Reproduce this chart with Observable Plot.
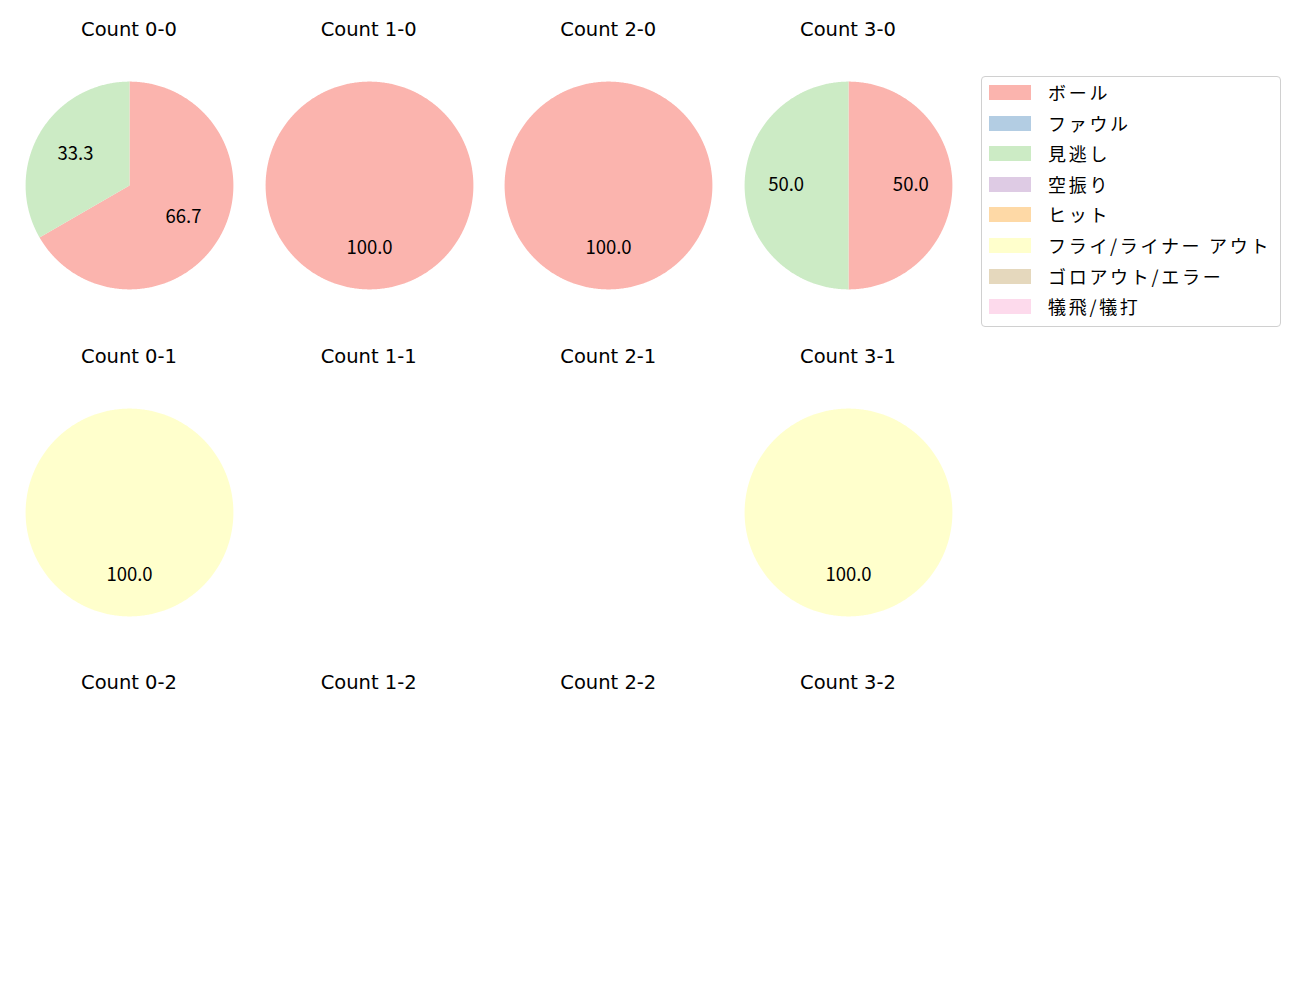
<!DOCTYPE html>
<html>
<head>
<meta charset="utf-8">
<script src="https://cdn.jsdelivr.net/npm/d3@7"></script>
<script src="https://cdn.jsdelivr.net/npm/@observablehq/plot@0.6"></script>
<style>
  html, body { margin: 0; padding: 0; background: #fff; }
  body { font-family: "Noto Sans CJK JP", "Noto Sans", sans-serif; }
  #fig { position: relative; width: 1300px; height: 1000px; overflow: hidden; }
  .ttl { position: absolute; width: 240px; text-align: center; font-family: "DejaVu Sans", sans-serif; font-size: 19.5px; color: #000; line-height: 24px; }
  .pie { position: absolute; }
  #legend { position: absolute; left: 981px; top: 76px; width: 298px; height: 249px; border: 1px solid #d0d0d0; border-radius: 4px; background: #fff; }
  .lg-row { position: absolute; left: 0; height: 20px; }
  .lg-sw { position: absolute; left: 7px; top: 2px; width: 42px; height: 15px; }
  .lg-tx { position: absolute; left: 66px; top: -3px; font-size: 18px; letter-spacing: 2.7px; white-space: nowrap; color: #000; line-height: 24px; }
</style>
</head>
<body>
<div id="fig"></div>
<script>
// ---- data ----
const categories = ["ボール", "ファウル", "見逃し", "空振り", "ヒット", "フライ/ライナー アウト", "ゴロアウト/エラー", "犠飛/犠打"];
const colors = ["#fbb4ae", "#b3cde3", "#ccebc5", "#decbe4", "#fed9a6", "#ffffcc", "#e5d8bd", "#fddaec"];
const balls = [0, 1, 2, 3];
const strikes = [0, 1, 2];
// counts per category for each ball-strike count (order follows categories)
const count_0_0 = [2, 0, 1, 0, 0, 0, 0, 0];
const count_1_0 = [1, 0, 0, 0, 0, 0, 0, 0];
const count_2_0 = [1, 0, 0, 0, 0, 0, 0, 0];
const count_3_0 = [1, 0, 1, 0, 0, 0, 0, 0];
const count_0_1 = [0, 0, 0, 0, 0, 1, 0, 0];
const count_1_1 = [0, 0, 0, 0, 0, 0, 0, 0];
const count_2_1 = [0, 0, 0, 0, 0, 0, 0, 0];
const count_3_1 = [0, 0, 0, 0, 0, 1, 0, 0];
const count_0_2 = [0, 0, 0, 0, 0, 0, 0, 0];
const count_1_2 = [0, 0, 0, 0, 0, 0, 0, 0];
const count_2_2 = [0, 0, 0, 0, 0, 0, 0, 0];
const count_3_2 = [0, 0, 0, 0, 0, 0, 0, 0];
const countTable = {
  "0-0": count_0_0, "1-0": count_1_0, "2-0": count_2_0, "3-0": count_3_0,
  "0-1": count_0_1, "1-1": count_1_1, "2-1": count_2_1, "3-1": count_3_1,
  "0-2": count_0_2, "1-2": count_1_2, "2-2": count_2_2, "3-2": count_3_2
};

// ---- layout ----
const fig = document.getElementById("fig");
const colX = [129, 368.7, 608.3, 848];
const rowY = [185, 511.5, 838];
const size = 240;
const lim = 1.155;

const colorScale = {type: "ordinal", domain: categories, range: colors};

balls.forEach((b, bi) => {
  strikes.forEach((s, si) => {
    const key = `${b}-${s}`;
    const vals = countTable[key];
    const cx = colX[bi], cy = rowY[si];

    const t = document.createElement("div");
    t.className = "ttl";
    t.textContent = `Count ${key}`;
    t.style.left = (cx - 120) + "px";
    t.style.top = (cy - 155 - 12) + "px";
    fig.appendChild(t);

    const total = d3.sum(vals);
    if (total === 0) return;

    const items = categories.map((c, i) => ({cat: c, v: vals[i]})).filter(d => d.v > 0);
    const arcs = d3.pie().value(d => d.v).sort(null).startAngle(0).endAngle(2 * Math.PI)(items);

    const poly = [];
    const labels = [];
    arcs.forEach((a, k) => {
      const full = a.endAngle - a.startAngle >= 2 * Math.PI - 1e-9;
      const n = Math.max(2, Math.ceil((a.endAngle - a.startAngle) / (Math.PI / 360)));
      if (!full) poly.push({k, cat: a.data.cat, x: 0, y: 0});
      for (let j = 0; j <= n; j++) {
        const ang = a.startAngle + (a.endAngle - a.startAngle) * j / n;
        poly.push({k, cat: a.data.cat, x: Math.sin(ang), y: Math.cos(ang)});
      }
      if (!full) poly.push({k, cat: a.data.cat, x: 0, y: 0});
      const mid = (a.startAngle + a.endAngle) / 2;
      labels.push({x: 0.6 * Math.sin(mid), y: 0.6 * Math.cos(mid), text: (100 * a.data.v / total).toFixed(1)});
    });

    const chart = Plot.plot({
      width: size, height: size,
      margin: 0,
      x: {domain: [-lim, lim], axis: null},
      y: {domain: [-lim, lim], axis: null},
      color: colorScale,
      style: {fontFamily: "'Noto Sans CJK JP', 'Noto Sans', sans-serif", background: "transparent", overflow: "visible"},
      marks: [
        Plot.line(poly, {x: "x", y: "y", z: "k", fill: "cat", stroke: "none", curve: "linear"}),
        Plot.text(labels, {x: "x", y: "y", text: "text", fontSize: 18.5, fill: "#000"})
      ]
    });
    chart.classList.add("pie");
    chart.style.left = (cx - size / 2) + "px";
    chart.style.top = (cy - size / 2) + "px";
    fig.appendChild(chart);
  });
});

// ---- legend ----
const lcol = d3.scaleOrdinal().domain(categories).range(colors);
const legend = document.createElement("div");
legend.id = "legend";
categories.forEach((c, i) => {
  const row = document.createElement("div");
  row.className = "lg-row";
  row.style.top = (6 + i * 30.6) + "px";
  const sw = document.createElement("div");
  sw.className = "lg-sw";
  sw.style.background = lcol(c);
  const tx = document.createElement("div");
  tx.className = "lg-tx";
  tx.textContent = c;
  row.appendChild(sw);
  row.appendChild(tx);
  legend.appendChild(row);
});
fig.appendChild(legend);
</script>
</body>
</html>
